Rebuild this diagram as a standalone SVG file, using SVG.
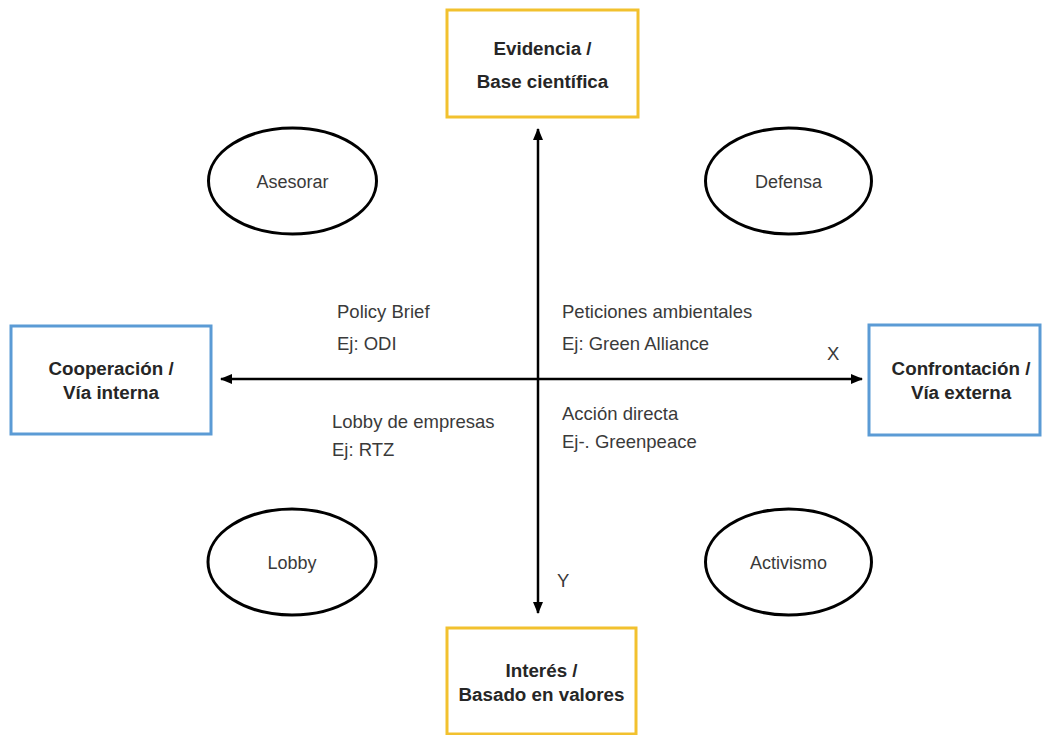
<svg xmlns="http://www.w3.org/2000/svg" width="1042" height="735" viewBox="0 0 1042 735">
<style>
.bold{font-family:"Liberation Sans",Arial,sans-serif;font-weight:bold;font-size:18.8px;fill:#262626;text-anchor:middle}
.lbl{font-family:"Liberation Sans",Arial,sans-serif;font-size:18.5px;fill:#3a3a3a}
.ell{font-family:"Liberation Sans",Arial,sans-serif;font-size:18px;fill:#3a3a3a;text-anchor:middle}
.el{fill:#fff;stroke:#000;stroke-width:3}
.ybox{fill:#fff;stroke:#F2C12E;stroke-width:3}
.bbox{fill:#fff;stroke:#5B9BD5;stroke-width:3}
.ax{stroke:#000;stroke-width:2.5;fill:none}
</style>
<defs>
<marker id="ah" markerUnits="userSpaceOnUse" markerWidth="12" markerHeight="10" refX="11" refY="5" orient="auto">
<path d="M0,0 L12,5 L0,10 Z" fill="#000"/>
</marker>
</defs>
<rect width="1042" height="735" fill="#fff"/>
<g id="connectors">
<line class="ax" x1="538" y1="379" x2="538" y2="129" marker-end="url(#ah)"/>
<line class="ax" x1="538" y1="379" x2="538" y2="613" marker-end="url(#ah)"/>
<line class="ax" x1="538" y1="379" x2="221" y2="379" marker-end="url(#ah)"/>
<line class="ax" x1="538" y1="379" x2="862" y2="379" marker-end="url(#ah)"/>
<text class="lbl" x="827" y="360">X</text>
<text class="lbl" x="557" y="587">Y</text>
</g>
<g id="evidencia">
<rect class="ybox" x="447" y="10" width="191" height="107"/>
<text class="bold" x="542.5" y="55">Evidencia /</text>
<text class="bold" x="542.5" y="88">Base científica</text>
</g>
<g id="interes">
<rect class="ybox" x="447" y="628" width="189" height="106"/>
<text class="bold" x="541.5" y="677">Interés /</text>
<text class="bold" x="541.5" y="701">Basado en valores</text>
</g>
<g id="cooperacion">
<rect class="bbox" x="11" y="326" width="200" height="108"/>
<text class="bold" x="111" y="375">Cooperación /</text>
<text class="bold" x="111" y="399">Vía interna</text>
</g>
<g id="confrontacion">
<rect class="bbox" x="869" y="325" width="171" height="110"/>
<text class="bold" x="961" y="375">Confrontación /</text>
<text class="bold" x="961" y="399">Vía externa</text>
</g>
<g id="asesorar">
<ellipse class="el" cx="292.5" cy="181" rx="84" ry="53"/>
<text class="ell" x="292.5" y="188">Asesorar</text>
</g>
<g id="defensa">
<ellipse class="el" cx="788.5" cy="181" rx="83" ry="53"/>
<text class="ell" x="788.5" y="188">Defensa</text>
</g>
<g id="lobby">
<ellipse class="el" cx="292" cy="562" rx="84" ry="53"/>
<text class="ell" x="292" y="569">Lobby</text>
</g>
<g id="activismo">
<ellipse class="el" cx="788.5" cy="562" rx="83" ry="53"/>
<text class="ell" x="788.5" y="569">Activismo</text>
</g>
<g id="quadrant-labels">
<text class="lbl" x="337" y="318">Policy Brief</text>
<text class="lbl" x="337" y="350">Ej: ODI</text>
<text class="lbl" x="562" y="318">Peticiones ambientales</text>
<text class="lbl" x="562" y="350">Ej: Green Alliance</text>
<text class="lbl" x="332" y="428">Lobby de empresas</text>
<text class="lbl" x="332" y="456">Ej: RTZ</text>
<text class="lbl" x="562" y="420">Acción directa</text>
<text class="lbl" x="562" y="448">Ej-. Greenpeace</text>
</g>
</svg>
